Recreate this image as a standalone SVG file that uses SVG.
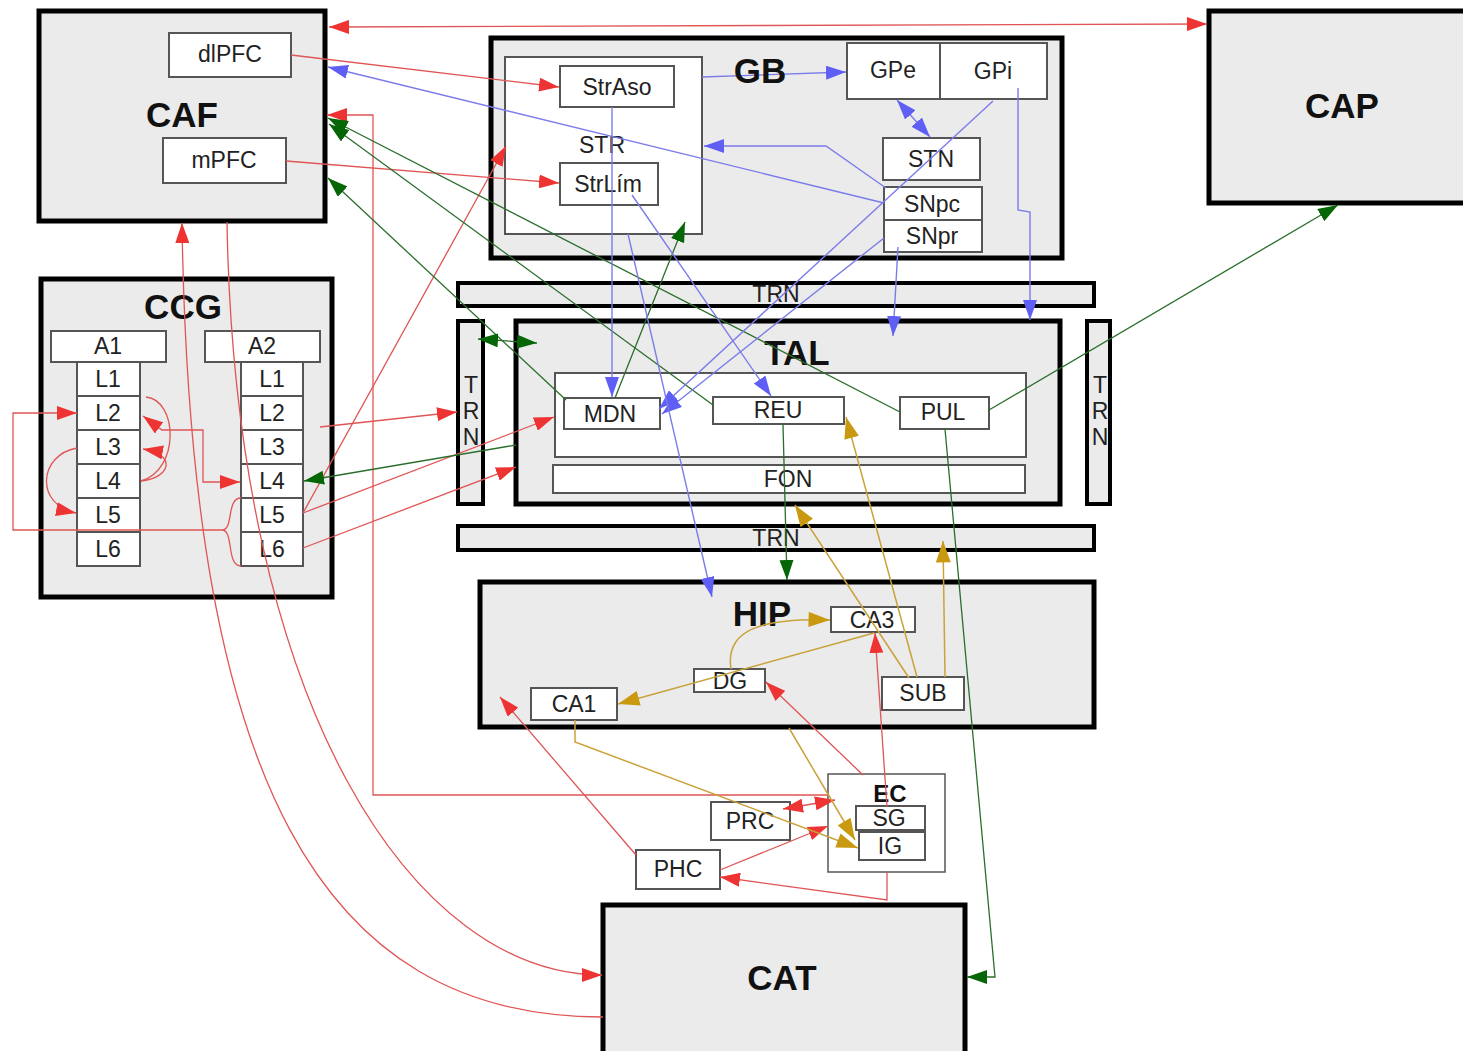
<svg xmlns="http://www.w3.org/2000/svg" width="1463" height="1051" viewBox="0 0 1463 1051">
<defs>
<style>
.big{fill:#ebebeb;stroke:#000;stroke-width:5}
.bar{fill:#ebebeb;stroke:#000;stroke-width:4}
.box{fill:#fff;stroke:#555;stroke-width:2}
.thin{fill:#fff;stroke:#555;stroke-width:1.5}
.t{font-family:"Liberation Sans",Arial,sans-serif;font-size:23px;fill:#222;text-anchor:middle}
.tb{font-family:"Liberation Sans",Arial,sans-serif;font-size:35px;font-weight:bold;fill:#111;text-anchor:middle}
.te{font-family:"Liberation Sans",Arial,sans-serif;font-size:24px;font-weight:bold;fill:#111;text-anchor:middle}
.r{fill:none;stroke:#e05555;stroke-width:1.3;marker-end:url(#mr)}
.g{fill:none;stroke:#2a6e2a;stroke-width:1.3;marker-end:url(#mg)}
.b{fill:none;stroke:#7b7bea;stroke-width:1.4;marker-end:url(#mb)}
.y{fill:none;stroke:#c9a23a;stroke-width:1.5;marker-end:url(#my)}
.rs{marker-start:url(#mr)}
.gs{marker-start:url(#mg)}
.bs{marker-start:url(#mb)}
.nm{marker-end:none}
</style>
<marker id="mr" viewBox="0 0 20 14" refX="20" refY="7" markerWidth="20" markerHeight="14" orient="auto-start-reverse" markerUnits="userSpaceOnUse"><path d="M0,0 L20,7 L0,14 z" fill="#ee3333"/></marker>
<marker id="mg" viewBox="0 0 20 14" refX="20" refY="7" markerWidth="20" markerHeight="14" orient="auto-start-reverse" markerUnits="userSpaceOnUse"><path d="M0,0 L20,7 L0,14 z" fill="#056605"/></marker>
<marker id="mb" viewBox="0 0 20 14" refX="20" refY="7" markerWidth="20" markerHeight="14" orient="auto-start-reverse" markerUnits="userSpaceOnUse"><path d="M0,0 L20,7 L0,14 z" fill="#5f5ff5"/></marker>
<marker id="my" viewBox="0 0 20 14" refX="20" refY="7" markerWidth="22" markerHeight="15" orient="auto-start-reverse" markerUnits="userSpaceOnUse"><path d="M0,0 L20,7 L0,14 z" fill="#c99a10"/></marker>
</defs>
<rect width="1463" height="1051" fill="#fff"/>

<g id="CAF"><rect class="big" x="39" y="11" width="286" height="210"/><text class="tb" x="182" y="127">CAF</text></g>
<g id="dlPFC"><rect class="box" x="169" y="33" width="122" height="44"/><text class="t" x="230" y="62">dlPFC</text></g>
<g id="mPFC"><rect class="box" x="163" y="138" width="123" height="45"/><text class="t" x="224" y="168">mPFC</text></g>

<g id="CAP"><rect class="big" x="1209" y="11" width="262" height="192"/><text class="tb" x="1342" y="118">CAP</text></g>

<g id="GB"><rect class="big" x="491" y="38" width="571" height="220"/></g>
<g id="STR"><rect class="box" x="505" y="57" width="197" height="177"/><text class="t" x="602" y="153">STR</text></g>
<g id="StrAso"><rect class="box" x="560" y="66" width="114" height="41"/><text class="t" x="617" y="95">StrAso</text></g>
<g id="StrLim"><rect class="box" x="560" y="163" width="98" height="42"/><text class="t" x="608" y="192">StrLím</text></g>
<g id="GPe"><rect class="box" x="847" y="43" width="93" height="56"/><text class="t" x="893" y="78">GPe</text></g>
<g id="GPi"><rect class="box" x="940" y="43" width="107" height="56"/><text class="t" x="993" y="79">GPi</text></g>
<g id="STN"><rect class="box" x="883" y="138" width="97" height="42"/><text class="t" x="931" y="167">STN</text></g>
<g id="SNpc"><rect class="box" x="884" y="187" width="98" height="33"/><text class="t" x="932" y="212">SNpc</text></g>
<g id="SNpr"><rect class="box" x="884" y="220" width="98" height="32"/><text class="t" x="932" y="244">SNpr</text></g>

<g id="TRN-top"><rect class="bar" x="458" y="283" width="636" height="23"/><text class="t" x="776" y="302">TRN</text></g>
<g id="TRN-left"><rect class="bar" x="458" y="321" width="25" height="183"/><text class="t" x="471" y="393">T</text><text class="t" x="471" y="419">R</text><text class="t" x="471" y="445">N</text></g>
<g id="TRN-right"><rect class="bar" x="1087" y="321" width="23" height="183"/><text class="t" x="1100" y="393">T</text><text class="t" x="1100" y="419">R</text><text class="t" x="1100" y="445">N</text></g>
<g id="TAL"><rect class="big" x="516" y="321" width="544" height="183"/><text class="tb" x="797" y="365">TAL</text><rect class="box" x="555" y="373" width="471" height="84"/></g>
<g id="MDN"><rect class="box" x="564" y="398" width="96" height="31"/><text class="t" x="610" y="422">MDN</text></g>
<g id="REU"><rect class="box" x="713" y="397" width="131" height="27"/><text class="t" x="778" y="418">REU</text></g>
<g id="PUL"><rect class="box" x="900" y="397" width="89" height="32"/><text class="t" x="943" y="420">PUL</text></g>
<g id="FON"><rect class="box" x="553" y="465" width="472" height="28"/><text class="t" x="788" y="487">FON</text></g>
<g id="TRN-bottom"><rect class="bar" x="458" y="526" width="636" height="24"/><text class="t" x="776" y="546">TRN</text></g>

<g id="HIP"><rect class="big" x="480" y="582" width="614" height="145"/><text class="tb" x="762" y="626">HIP</text></g>
<g id="CA3"><rect class="box" x="831" y="607" width="84" height="25"/><text class="t" x="872" y="628">CA3</text></g>
<g id="DG"><rect class="box" x="694" y="669" width="71" height="23"/><text class="t" x="730" y="689">DG</text></g>
<g id="CA1"><rect class="box" x="531" y="688" width="86" height="32"/><text class="t" x="574" y="712">CA1</text></g>
<g id="SUB"><rect class="box" x="882" y="677" width="82" height="33"/><text class="t" x="923" y="701">SUB</text></g>

<g id="EC"><rect class="thin" x="828" y="774" width="117" height="98"/><text class="te" x="890" y="802">EC</text></g>
<g id="SG"><rect class="box" x="856" y="806" width="69" height="24"/><text class="t" x="889" y="826">SG</text></g>
<g id="IG"><rect class="box" x="859" y="832" width="66" height="28"/><text class="t" x="890" y="854">IG</text></g>
<g id="PRC"><rect class="box" x="711" y="802" width="79" height="38"/><text class="t" x="750" y="829">PRC</text></g>
<g id="PHC"><rect class="box" x="636" y="850" width="84" height="39"/><text class="t" x="678" y="877">PHC</text></g>
<g id="CAT"><rect class="big" x="603" y="905" width="362" height="152"/><text class="tb" x="782" y="990">CAT</text></g>

<g id="CCG"><rect class="big" x="41" y="279" width="291" height="318"/><text class="tb" x="183" y="319">CCG</text></g>
<g id="A1"><rect class="box" x="51" y="331" width="115" height="31"/><text class="t" x="108" y="354">A1</text>
<rect class="box" x="77" y="362" width="63" height="34"/><text class="t" x="108" y="387">L1</text>
<rect class="box" x="77" y="396" width="63" height="34"/><text class="t" x="108" y="421">L2</text>
<rect class="box" x="77" y="430" width="63" height="34"/><text class="t" x="108" y="455">L3</text>
<rect class="box" x="77" y="464" width="63" height="34"/><text class="t" x="108" y="489">L4</text>
<rect class="box" x="77" y="498" width="63" height="34"/><text class="t" x="108" y="523">L5</text>
<rect class="box" x="77" y="532" width="63" height="34"/><text class="t" x="108" y="557">L6</text></g>
<g id="A2"><rect class="box" x="205" y="331" width="115" height="31"/><text class="t" x="262" y="354">A2</text>
<rect class="box" x="241" y="362" width="62" height="34"/><text class="t" x="272" y="387">L1</text>
<rect class="box" x="241" y="396" width="62" height="34"/><text class="t" x="272" y="421">L2</text>
<rect class="box" x="241" y="430" width="62" height="34"/><text class="t" x="272" y="455">L3</text>
<rect class="box" x="241" y="464" width="62" height="34"/><text class="t" x="272" y="489">L4</text>
<rect class="box" x="241" y="498" width="62" height="34"/><text class="t" x="272" y="523">L5</text>
<rect class="box" x="241" y="532" width="62" height="34"/><text class="t" x="272" y="557">L6</text></g>

<g id="connectors">
<path class="r rs" d="M329,27 L1207,24"/>
<path class="r" d="M291,55 L559,87"/>
<path class="r" d="M286,161 L559,183"/>
<path class="r" d="M303,513 L506,146"/>
<path class="r" d="M828,795 L373,795 L373,115 L327,115"/>
<path class="r rs" d="M783,809 L835,800"/>
<path class="r" d="M720,870 L828,826"/>
<path class="r" d="M887,872 L887,900 L720,877"/>
<path class="r" d="M636,855 L500,697"/>
<path class="r" d="M863,775 L766,682"/>
<path class="r" d="M887,807 L875,633"/>
<path class="r" d="M603,1017 C320,1017 190,780 182,223"/>
<path class="r" d="M227,222 C235,710 415,975 602,975"/>
<path class="r" d="M320,427 L457,412"/>
<path class="r" d="M303,513 L554,417"/>
<path class="r" d="M303,548 L516,467"/>
<path class="r" d="M241,566 C226,566 234,530 222,530 M241,498 C226,498 234,530 222,530 L13,530 L13,413 L77,413"/>
<path class="r rs" d="M143,416 L162,430 L203,430 L203,482 L240,482"/>
<path class="r nm" d="M146,397 C178,400 180,470 141,481"/>
<path class="r" d="M141,481 C170,478 178,455 143,449"/>
<path class="r" d="M77,448 C38,455 35,505 76,513"/>

<path class="g" d="M900,412 L328,118"/>
<path class="g" d="M713,405 L329,124"/>
<path class="g" d="M566,400 L328,178"/>
<path class="g gs" d="M478,339 L537,343"/>
<path class="g" d="M516,445 L304,481"/>
<path class="g" d="M615,398 L685,222"/>
<path class="g" d="M783,424 L787,580"/>
<path class="g" d="M989,410 L1338,205"/>
<path class="g" d="M945,429 L995,977 L967,977"/>

<path class="b" d="M884,203 L328,67"/>
<path class="b" d="M702,77 L846,72"/>
<path class="b bs" d="M897,100 L930,137"/>
<path class="b" d="M886,188 L826,146 L704,146"/>
<path class="b" d="M993,101 L659,409"/>
<path class="b" d="M884,238 L662,414"/>
<path class="b" d="M898,247 L893,336"/>
<path class="b" d="M1018,88 L1018,210 L1030,212 L1030,320"/>
<path class="b" d="M612,107 L612,397"/>
<path class="b" d="M628,234 L712,597"/>
<path class="b" d="M632,195 L771,396"/>

<path class="y" d="M731,669 C725,630 760,618 830,620"/>
<path class="y" d="M874,633 L618,704"/>
<path class="y" d="M909,678 L795,505"/>
<path class="y" d="M917,677 L846,417"/>
<path class="y" d="M945,677 L943,541"/>
<path class="y" d="M575,720 L575,742 L858,848"/>
<path class="y" d="M789,728 L855,840"/>
</g>
<text class="tb" x="760" y="83">GB</text>
</svg>
